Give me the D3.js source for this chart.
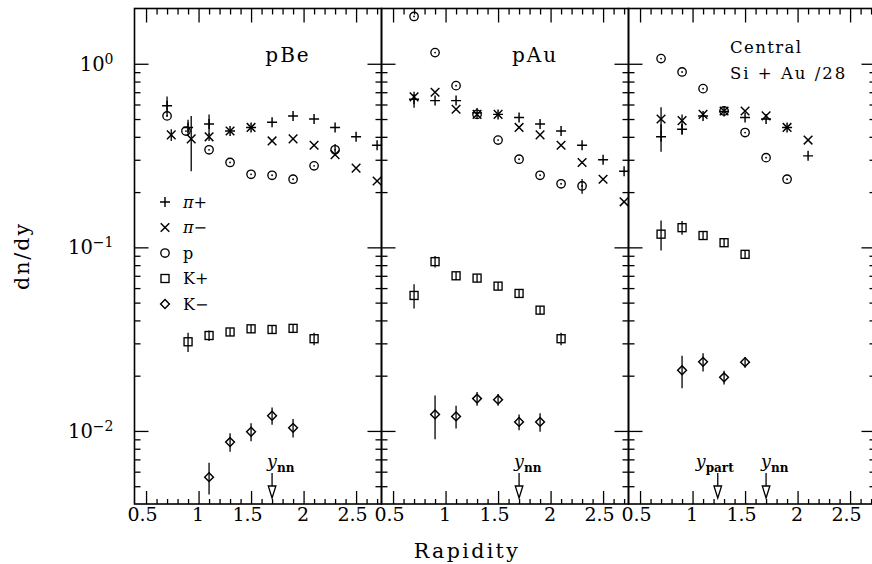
<!DOCTYPE html>
<html>
<head>
<meta charset="utf-8">
<script src="https://cdn.jsdelivr.net/npm/d3@7/dist/d3.min.js"></script>
<style>
body { margin: 0; background: #fff; }
svg { display: block; font-family: "DejaVu Serif", serif; }
</style>
</head>
<body>
<svg width="872" height="564"></svg>
<script>
// panel titles (one array of lines per panel)
const panelTitles = [["pBe"], ["pAu"], ["Central", "Si + Au /28"]];

// tick labels
const xTickValues = [0.5, 1, 1.5, 2, 2.5];
const xTickLabels = ["0.5", "1", "1.5", "2", "2.5"];
const yTickValues = [1, 0.1, 0.01];
const yTickExp = ["0", "\u22121", "\u22122"];

// legend
const legendTypes = ["plus", "cross", "circle", "square", "diamond"];
const legendLabels = ["\u03c0+", "\u03c0\u2212", "p", "K+", "K\u2212"];

// ---- pBe ----
const bePipX = [0.7, 0.9, 1.1, 1.3, 1.5, 1.7, 1.9, 2.1, 2.3, 2.5, 2.7];
const bePip = [0.59, 0.45, 0.47, 0.43, 0.45, 0.48, 0.52, 0.50, 0.45, 0.40, 0.36];
const bePipErr = [0.074, 0.045, 0.059, 0, 0, 0, 0, 0, 0, 0, 0];
const bePimX = [0.74, 0.93, 1.1, 1.3, 1.5, 1.7, 1.9, 2.1, 2.3, 2.5, 2.7];
const bePim = [0.41, 0.39, 0.40, 0.43, 0.45, 0.38, 0.39, 0.36, 0.32, 0.27, 0.23];
const bePimErr = [0.03, 0.13, 0.02, 0, 0, 0, 0, 0, 0, 0, 0];
const beProX = [0.7, 0.88, 1.1, 1.3, 1.5, 1.7, 1.9, 2.1, 2.3];
const bePro = [0.52, 0.43, 0.34, 0.29, 0.25, 0.247, 0.235, 0.278, 0.34];
const beProErr = [0, 0, 0, 0, 0, 0, 0, 0, 0.025];
const beKpX = [0.9, 1.1, 1.3, 1.5, 1.7, 1.9, 2.1];
const beKp = [0.0306, 0.0331, 0.0346, 0.0360, 0.0357, 0.0362, 0.0318];
const beKpErr = [0.0037, 0.0022, 0.0017, 0.0018, 0.0018, 0.0018, 0.0025];
const beKmX = [1.1, 1.3, 1.5, 1.7, 1.9];
const beKm = [0.0056, 0.0087, 0.0099, 0.0121, 0.0104];
const beKmErr = [0.0011, 0.0010, 0.0011, 0.0013, 0.0012];

// ---- pAu ----
const auPipX = [0.7, 0.9, 1.1, 1.3, 1.5, 1.7, 1.9, 2.1, 2.3, 2.5, 2.7];
const auPip = [0.64, 0.63, 0.63, 0.54, 0.53, 0.51, 0.47, 0.43, 0.36, 0.30, 0.26];
const auPipErr = [0.064, 0, 0, 0, 0, 0, 0, 0, 0, 0, 0];
const auPimX = [0.7, 0.9, 1.1, 1.3, 1.5, 1.7, 1.9, 2.1, 2.3, 2.5, 2.7];
const auPim = [0.66, 0.70, 0.565, 0.53, 0.53, 0.45, 0.41, 0.36, 0.29, 0.235, 0.177];
const auPimErr = [0, 0, 0, 0, 0, 0, 0, 0, 0, 0, 0];
const auProX = [0.7, 0.9, 1.1, 1.3, 1.5, 1.7, 1.9, 2.1, 2.3];
const auPro = [1.81, 1.15, 0.76, 0.53, 0.384, 0.302, 0.247, 0.222, 0.216];
const auProErr = [0, 0, 0, 0, 0, 0, 0, 0, 0.02];
const auKpX = [0.7, 0.9, 1.1, 1.3, 1.5, 1.7, 1.9, 2.1];
const auKp = [0.0547, 0.0836, 0.0700, 0.0680, 0.0615, 0.0561, 0.0455, 0.0318];
const auKpErr = [0.0083, 0.006, 0.0035, 0.0034, 0.003, 0.0028, 0.0023, 0.0025];
const auKmX = [0.9, 1.1, 1.3, 1.5, 1.7, 1.9];
const auKm = [0.0123, 0.0120, 0.0150, 0.0148, 0.0112, 0.0112];
const auKmErr = [0.0033, 0.0017, 0.0013, 0.0011, 0.0011, 0.0013];

// ---- Central Si + Au /28 ----
const siPipX = [0.7, 0.9, 1.1, 1.3, 1.5, 1.7, 1.9, 2.1];
const siPip = [0.40, 0.44, 0.52, 0.55, 0.51, 0.50, 0.45, 0.315];
const siPipErr = [0.068, 0.03, 0, 0, 0, 0, 0, 0];
const siPimX = [0.7, 0.9, 1.1, 1.3, 1.5, 1.7, 1.9, 2.1];
const siPim = [0.50, 0.49, 0.53, 0.553, 0.553, 0.52, 0.45, 0.384];
const siPimErr = [0.08, 0.04, 0, 0, 0, 0, 0, 0];
const siProX = [0.7, 0.9, 1.1, 1.3, 1.5, 1.7, 1.9];
const siPro = [1.067, 0.902, 0.732, 0.553, 0.422, 0.308, 0.235];
const siProErr = [0, 0, 0, 0, 0, 0, 0];
const siKpX = [0.7, 0.9, 1.1, 1.3, 1.5];
const siKp = [0.118, 0.128, 0.116, 0.106, 0.0916];
const siKpErr = [0.022, 0.011, 0.006, 0.0055, 0.005];
const siKmX = [0.9, 1.1, 1.3, 1.5];
const siKm = [0.0214, 0.0238, 0.0196, 0.0237];
const siKmErr = [0.0043, 0.0027, 0.0017, 0.0016];

// rapidity markers (arrows)
const arrowPanel = [0, 1, 2, 2];
const arrowRap = [1.70, 1.70, 1.24, 1.70];
const arrowSub = ["nn", "nn", "part", "nn"];

const series = [
  [0, "plus", bePipX, bePip, bePipErr], [0, "cross", bePimX, bePim, bePimErr],
  [0, "circle", beProX, bePro, beProErr], [0, "square", beKpX, beKp, beKpErr],
  [0, "diamond", beKmX, beKm, beKmErr],
  [1, "plus", auPipX, auPip, auPipErr], [1, "cross", auPimX, auPim, auPimErr],
  [1, "circle", auProX, auPro, auProErr], [1, "square", auKpX, auKp, auKpErr],
  [1, "diamond", auKmX, auKm, auKmErr],
  [2, "plus", siPipX, siPip, siPipErr], [2, "cross", siPimX, siPim, siPimErr],
  [2, "circle", siProX, siPro, siProErr], [2, "square", siKpX, siKp, siKpErr],
  [2, "diamond", siKmX, siKm, siKmErr]
];

const svg = d3.select("svg");
const padL = 134.5, pw = 247, padT = 8.5, padB = 504;

const x = d3.scaleLinear().domain([0.39, 2.742]).range([0, pw]);
const y = d3.scaleLog().domain([0.004, 2]).range([padB, padT]);

const xMinor = d3.range(0.6, 2.75, 0.1).filter(v => Math.abs(v * 2 - Math.round(v * 2)) > 0.01);
const yMinor = [];
[0.001, 0.01, 0.1].forEach(b => d3.range(2, 10).forEach(m => { const v = b * m; if (v > 0.004 && v < 1.99) yMinor.push(v); }));

const shapes = {
  plus: "M-5,0H5M0,-5V5",
  cross: "M-4.3,-4.3L4.3,4.3M-4.3,4.3L4.3,-4.3",
  diamond: "M0,-4.4L4.4,0L0,4.4L-4.4,0Z"
};

function drawMarker(g, type, cx, cy, inLegend) {
  if (type === "circle") {
    g.append("circle").attr("cx", cx).attr("cy", cy).attr("r", 4.2)
      .attr("fill", "none").attr("stroke", "#000").attr("stroke-width", 1.35);
    if (!inLegend) g.append("circle").attr("cx", cx).attr("cy", cy).attr("r", 0.9).attr("fill", "#000");
  } else if (type === "square") {
    g.append("rect").attr("x", cx - 4).attr("y", cy - 4).attr("width", 8).attr("height", 8)
      .attr("fill", "none").attr("stroke", "#000").attr("stroke-width", 1.35);
  } else {
    g.append("path").attr("d", shapes[type]).attr("transform", `translate(${cx},${cy})`)
      .attr("fill", "none").attr("stroke", "#000").attr("stroke-width", 1.45);
  }
}

const tidy = sel => {
  sel.select(".domain").remove();
  sel.selectAll("line").attr("stroke", "#000").attr("stroke-width", 1.3);
  sel.attr("font-family", null).attr("font-size", null);
};

panelTitles.forEach((lines, i) => {
  const g = svg.append("g").attr("transform", `translate(${padL + i * pw},0)`);

  g.append("g").attr("transform", `translate(0,${padB})`)
    .call(d3.axisBottom(x).tickValues(xTickValues).tickSize(-13).tickPadding(3).tickFormat((d, k) => xTickLabels[k]))
    .call(tidy)
    .selectAll("text").attr("font-size", 19).attr("fill", "#000")
    .attr("dx", d => (d % 1 ? -4 : -1));
  g.append("g").attr("transform", `translate(0,${padB})`)
    .call(d3.axisBottom(x).tickValues(xMinor).tickSize(-5).tickFormat("")).call(tidy);
  g.append("g").attr("transform", `translate(0,${padT})`)
    .call(d3.axisTop(x).tickValues(xTickValues).tickSize(-14).tickFormat("")).call(tidy);
  g.append("g").attr("transform", `translate(0,${padT})`)
    .call(d3.axisTop(x).tickValues(xMinor).tickSize(-6).tickFormat("")).call(tidy);

  const yl = g.append("g")
    .call(d3.axisLeft(y).tickValues(yTickValues).tickSize(-14).tickPadding(21).tickFormat(i === 0 ? () => "10" : ""))
    .call(tidy);
  if (i === 0) {
    yl.selectAll("text").attr("font-size", 19.5).attr("fill", "#000")
      .each(function (d, k) {
        d3.select(this).append("tspan").attr("dy", -7).attr("font-size", 14).text(yTickExp[k]);
      });
  }
  g.append("g").call(d3.axisLeft(y).tickValues(yMinor).tickSize(-6).tickFormat("")).call(tidy);
  g.append("g").attr("transform", `translate(${pw},0)`)
    .call(d3.axisRight(y).tickValues(yTickValues).tickSize(-14).tickFormat("")).call(tidy);
  g.append("g").attr("transform", `translate(${pw},0)`)
    .call(d3.axisRight(y).tickValues(yMinor).tickSize(-6).tickFormat("")).call(tidy);

  g.append("rect").attr("x", 0).attr("y", padT).attr("width", pw).attr("height", padB - padT)
    .attr("fill", "none").attr("stroke", "#000").attr("stroke-width", 1.6);

  // titles
  if (lines.length === 1) {
    g.append("text").attr("x", 153.5).attr("y", 62).attr("text-anchor", "middle")
      .attr("font-size", 20).attr("letter-spacing", 2).text(lines[0]);
  } else {
    lines.forEach((t, k) => {
      g.append("text").attr("x", 101.5).attr("y", 53 + k * 25.5)
        .attr("font-size", 16.5).attr("letter-spacing", k ? 2 : 1.4)
        .style("white-space", "pre").text(t);
    });
  }

  // data
  series.filter(s => s[0] === i).forEach(([, type, xs, vs, es]) => {
    xs.forEach((xv, k) => {
      const cx = x(xv), cy = y(vs[k]);
      if (es[k] > 0) {
        g.append("line").attr("x1", cx).attr("x2", cx)
          .attr("y1", y(vs[k] + es[k])).attr("y2", y(Math.max(vs[k] - es[k], 0.0041)))
          .attr("stroke", "#000").attr("stroke-width", 1.3);
      }
      drawMarker(g, type, cx, cy, false);
    });
  });

  // arrows
  arrowPanel.forEach((p, k) => {
    if (p !== i) return;
    const ax = x(arrowRap[k]);
    g.append("line").attr("x1", ax).attr("x2", ax).attr("y1", 473).attr("y2", 486)
      .attr("stroke", "#000").attr("stroke-width", 1.3);
    g.append("path").attr("d", `M${ax - 3.8},486L${ax + 3.8},486L${ax},498Z`)
      .attr("fill", "#fff").attr("stroke", "#000").attr("stroke-width", 1.3);
    const t = g.append("text").attr("x", ax + (arrowSub[k] === "part" ? -22 : -5)).attr("y", 467)
      .attr("font-size", 17.5).attr("font-style", "italic").text("y");
    t.append("tspan").attr("dy", 5).attr("font-size", 12).attr("font-style", "normal")
      .attr("font-weight", "bold").text(arrowSub[k]);
  });

  // legend
  if (i === 0) {
    legendLabels.forEach((lab, k) => {
      const ly = 202 + k * 25.5;
      drawMarker(g, legendTypes[k], 30.5, ly, true);
      const t = g.append("text").attr("x", 48.5).attr("y", ly + 5.5).attr("font-size", 16);
      if (lab[0] === "\u03c0") {
        t.append("tspan").attr("font-style", "italic").text(lab[0]);
        t.append("tspan").text(lab.slice(1));
      } else {
        t.text(lab);
      }
    });
  }
});

svg.append("text").attr("x", 467).attr("y", 558).attr("text-anchor", "middle")
  .attr("font-size", 20.5).attr("letter-spacing", 2.4).text("Rapidity");
svg.append("text").attr("transform", "translate(29,256) rotate(-90)").attr("text-anchor", "middle")
  .attr("font-size", 20.5).attr("letter-spacing", 2).text("dn/dy");
</script>
</body>
</html>
